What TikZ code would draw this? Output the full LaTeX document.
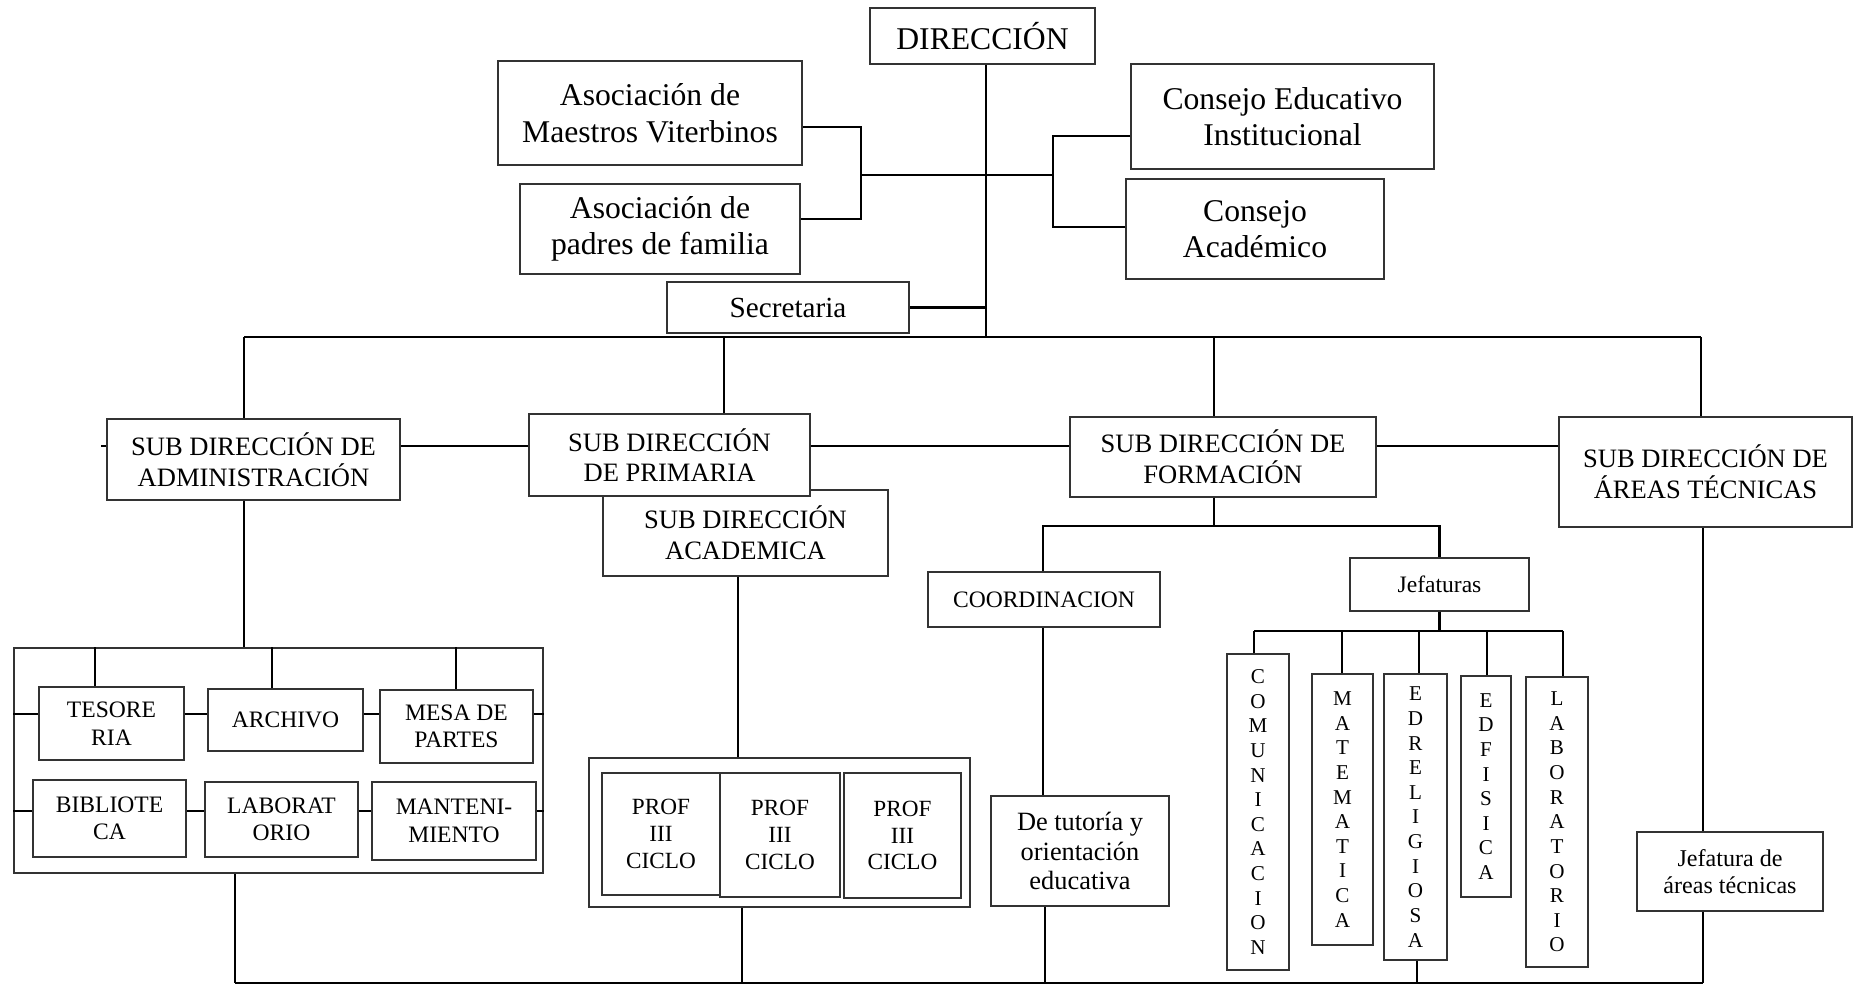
\documentclass[tikz,border=0pt]{standalone}
\usepackage{fontspec}
\setmainfont{Liberation Serif}
\tikzset{
  box/.style={draw=black!80, line width=0.4pt, fill=white, inner sep=0pt, align=center, text=black},
  link/.style={line width=0.6pt, black},
  bus/.style={line width=0.8pt, black},
  fbig/.style={font=\fontsize{9}{10.4}\selectfont},
  fsec/.style={font=\fontsize{8.3}{9.6}\selectfont},
  fsub/.style={font=\fontsize{7.55}{8.75}\selectfont},
  fsml/.style={font=\fontsize{6.7}{7.8}\selectfont},
  fprof/.style={font=\fontsize{6.6}{7.6}\selectfont},
  ftut/.style={font=\fontsize{7.5}{8.4}\selectfont},
  fjat/.style={font=\fontsize{6.85}{7.6}\selectfont},
  fvert/.style={font=\fontsize{6}{7}\selectfont},
}
\begin{document}
\begin{tikzpicture}[x=0.01cm, y=-0.01cm]
\useasboundingbox (0,0) rectangle (1861,984);

% --- top level ---
\node[box, fbig, minimum width=2.25cm, minimum height=0.56cm] (dir) at (982.5,36) {DIRECCIÓN};
\node[box, fbig, minimum width=3.04cm, minimum height=1.04cm] (amv) at (650,113) {Asociación de\\Maestros Viterbinos};
\node[box, fbig, minimum width=2.80cm, minimum height=0.90cm] (apf) at (660,229) {Asociación de\\padres de familia};
\node[box, fsec, minimum width=2.42cm, minimum height=0.51cm] (sec) at (788,307.5) {Secretaria};
\node[box, fbig, minimum width=3.03cm, minimum height=1.05cm] (cei) at (1282.5,116.5) {Consejo Educativo\\Institucional};
\node[box, fbig, minimum width=2.58cm, minimum height=1.00cm] (cac) at (1255,229) {Consejo\\Académico};

% --- sub directions ---
\node[box, fsub, minimum width=2.93cm, minimum height=0.81cm] (sadm) at (253.5,459.5) {SUB DIRECCIÓN DE\\ADMINISTRACIÓN};
\node[box, fsub, minimum width=2.85cm, minimum height=0.86cm] (sacad) at (745.5,533) {SUB DIRECCIÓN\\ACADEMICA};
\node[box, fsub, minimum width=2.81cm, minimum height=0.82cm] (sprim) at (669.5,455) {SUB DIRECCIÓN\\DE PRIMARIA};
\node[box, fsub, minimum width=3.06cm, minimum height=0.80cm] (sform) at (1223,457) {SUB DIRECCIÓN DE\\FORMACIÓN};
\node[box, fsub, minimum width=2.93cm, minimum height=1.10cm] (sarea) at (1705.5,472) {SUB DIRECCIÓN DE\\ÁREAS TÉCNICAS};

% --- administration group ---
\node[box, minimum width=5.29cm, minimum height=2.25cm] (aout) at (278.5,760.5) {};
\node[box, fsml, minimum width=1.45cm, minimum height=0.73cm] (tes) at (111.5,723.5) {TESORE\\RIA};
\node[box, fsml, minimum width=1.55cm, minimum height=0.62cm] (arch) at (285.5,720) {ARCHIVO};
\node[box, fsml, minimum width=1.53cm, minimum height=0.73cm] (mesa) at (456.5,726.5) {MESA DE\\PARTES};
\node[box, fsml, minimum width=1.53cm, minimum height=0.77cm] (bib) at (109.5,818.5) {BIBLIOTE\\CA};
\node[box, fsml, minimum width=1.53cm, minimum height=0.75cm] (labA) at (281.5,819.5) {LABORAT\\ORIO};
\node[box, fsml, minimum width=1.64cm, minimum height=0.78cm] (mant) at (454,821) {MANTENI-\\MIENTO};

% --- teachers group ---
\node[box, minimum width=3.81cm, minimum height=1.49cm] (pout) at (779.5,832.5) {};
\node[box, fprof, minimum width=1.18cm, minimum height=1.22cm] (p1) at (661,834) {PROF\\III\\CICLO};
\node[box, fprof, minimum width=1.20cm, minimum height=1.24cm] (p2) at (780,835) {PROF\\III\\CICLO};
\node[box, fprof, minimum width=1.17cm, minimum height=1.25cm] (p3) at (902.5,835.5) {PROF\\III\\CICLO};

% --- formation branch ---
\node[box, fsml, minimum width=2.32cm, minimum height=0.55cm] (coord) at (1044,599.5) {COORDINACION};
\node[box, fsml, minimum width=1.79cm, minimum height=0.53cm] (jef) at (1439.5,584.5) {Jefaturas};
\node[box, ftut, minimum width=1.78cm, minimum height=1.10cm] (tut) at (1080,851) {De tutoría y\\orientación\\educativa};
\node[box, fvert, minimum width=0.62cm, minimum height=3.16cm] (com) at (1258,812) {C\\O\\M\\U\\N\\I\\C\\A\\C\\I\\O\\N};
\node[box, fvert, minimum width=0.61cm, minimum height=2.71cm] (mat) at (1342.5,809.5) {M\\A\\T\\E\\M\\A\\T\\I\\C\\A};
\node[box, fvert, minimum width=0.63cm, minimum height=2.86cm] (edr) at (1415.5,817) {E\\D\\R\\E\\L\\I\\G\\I\\O\\S\\A};
\node[box, fvert, minimum width=0.50cm, minimum height=2.21cm] (edf) at (1486,786.5) {E\\D\\F\\I\\S\\I\\C\\A};
\node[box, fvert, minimum width=0.62cm, minimum height=2.90cm] (lab) at (1557,822) {L\\A\\B\\O\\R\\A\\T\\O\\R\\I\\O};

% --- technical areas ---
\node[box, fjat, minimum width=1.86cm, minimum height=0.79cm] (jat) at (1730,871.5) {Jefatura de\\áreas técnicas};

% --- reference levels and junctions ---
\coordinate (sp) at (986,337);
\coordinate (jl) at (861,175);
\coordinate (jr) at (1053,175);
\coordinate (ya) at (0,127);
\coordinate (yb) at (0,219);
\coordinate (yc) at (0,136);
\coordinate (yd) at (0,227);
\coordinate (yh) at (0,446);
\coordinate (yr1) at (0,714);
\coordinate (yr2) at (0,811);
\coordinate (yf) at (0,526);
\coordinate (yj) at (0,631);
\coordinate (ybot) at (0,983);
\coordinate (b1) at (244,337);
\coordinate (b2) at (724,337);
\coordinate (b3) at (1214,337);
\coordinate (b4) at (1701,337);
\coordinate (t1) at (95,0);
\coordinate (t2) at (272,0);
\coordinate (t3) at (456,0);
\coordinate (xab) at (235,0);
\coordinate (xac) at (738,0);
\coordinate (xpo) at (742,0);
\coordinate (xc) at (1043,0);
\coordinate (xt) at (1045,0);
\coordinate (xe) at (1417,0);
\coordinate (xr) at (1703,0);
\coordinate (d1) at (1254,631);
\coordinate (d2) at (1342,631);
\coordinate (d3) at (1419,631);
\coordinate (d4) at (1487,631);
\coordinate (d5) at (1563,631);

% --- top connectors ---
\draw[link] (dir.south -| sp) -- (sp);
\draw[link] (amv.east |- ya) -| (jl) |- (apf.east |- yb);
\draw[link] (jl) -- (jl -| sp);
\draw[link] (jr -| sp) -- (jr);
\draw[link] (cei.west |- yc) -| (jr) |- (cac.west |- yd);
\draw[link] (sec.east) -- (sec.east -| sp);

% --- main bus ---
\draw[bus] (b1) -- (b4);
\draw[link] (b1) -- (b1 |- sadm.north);
\draw[link] (b2) -- (b2 |- sprim.north);
\draw[link] (b3) -- (b3 |- sform.north);
\draw[link] (b4) -- (b4 |- sarea.north);
\draw[link] (sadm.west |- yh) -- ++(-5,0);
\draw[link] (sadm.east |- yh) -- (sprim.west |- yh);
\draw[link] (sprim.east |- yh) -- (sform.west |- yh);
\draw[link] (sform.east |- yh) -- (sarea.west |- yh);

% --- administration ---
\draw[link] (b1 |- sadm.south) -- (b1 |- aout.north);
\draw[link] (t1 |- aout.north) -- (t1 |- tes.north);
\draw[link] (t2 |- aout.north) -- (t2 |- arch.north);
\draw[link] (t3 |- aout.north) -- (t3 |- mesa.north);
\draw[link] (aout.west |- yr1) -- (tes.west |- yr1);
\draw[link] (tes.east |- yr1) -- (arch.west |- yr1);
\draw[link] (arch.east |- yr1) -- (mesa.west |- yr1);
\draw[link] (mesa.east |- yr1) -- (aout.east |- yr1);
\draw[link] (aout.west |- yr2) -- (bib.west |- yr2);
\draw[link] (bib.east |- yr2) -- (labA.west |- yr2);
\draw[link] (labA.east |- yr2) -- (mant.west |- yr2);
\draw[link] (mant.east |- yr2) -- (aout.east |- yr2);
\draw[link] (xab |- aout.south) -- (xab |- ybot);

% --- academic ---
\draw[link] (xac |- sacad.south) -- (xac |- pout.north);
\draw[link] (xpo |- pout.south) -- (xpo |- ybot);

% --- formation ---
\draw[link] (b3 |- sform.south) -- (b3 |- yf);
\draw[link] (xc |- coord.north) |- (yf -| jef.north) -- (jef.north);
\draw[link] (xc |- coord.south) -- (xc |- tut.north);
\draw[link] (xt |- tut.south) -- (xt |- ybot);
\draw[link] (jef.south) -- (jef.south |- yj);
\draw[link] (d1) -- (d5);
\draw[link] (d1) -- (d1 |- com.north);
\draw[link] (d2) -- (d2 |- mat.north);
\draw[link] (d3) -- (d3 |- edr.north);
\draw[link] (d4) -- (d4 |- edf.north);
\draw[link] (d5) -- (d5 |- lab.north);
\draw[link] (xe |- edr.south) -- (xe |- ybot);

% --- technical areas ---
\draw[link] (xr |- sarea.south) -- (xr |- jat.north);
\draw[link] (xr |- jat.south) -- (xr |- ybot);

% --- bottom line ---
\draw[bus] (xab |- ybot) -- (xr |- ybot);
\end{tikzpicture}
\end{document}
